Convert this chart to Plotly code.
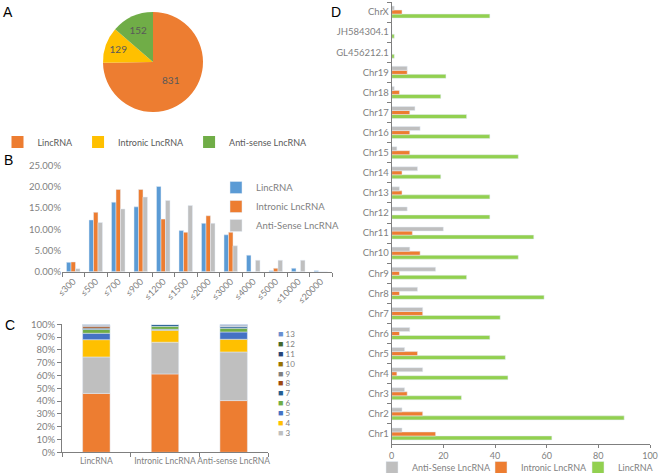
import plotly.graph_objects as go

W, H = 659, 473
def px(x): return x / W
def py(y): return 1 - y / H

FONT = "Lato"
TXT = "#7F7F7F"

# ---------- Panel A data ----------
pie_labels = ["LincRNA", "Intronic LncRNA", "Anti-sense LncRNA"]
pie_values = [831, 129, 152]
pie_colors = ["#ED7D31", "#FFC000", "#70AD47"]

# ---------- Panel B data ----------
len_bins = ["≤300", "≤500", "≤700", "≤900", "≤1200", "≤1500", "≤2000",
            "≤3000", "≤4000", "≤5000", "≤10000", "≤20000"]
b_linc = [0.022, 0.122, 0.164, 0.153, 0.201, 0.097, 0.114, 0.087, 0.039, 0.002, 0.008, 0.002]
b_intronic = [0.023, 0.140, 0.194, 0.194, 0.124, 0.093, 0.132, 0.093, 0.0, 0.008, 0.0, 0.0]
b_anti = [0.007, 0.116, 0.148, 0.176, 0.168, 0.156, 0.114, 0.061, 0.027, 0.027, 0.027, 0.0]

# ---------- Panel C data ----------
c_cats = ["LincRNA", "Intronic LncRNA", "Anti-sense LncRNA"]
c_series = ["2", "3", "4", "5", "6", "7", "8", "9", "10", "11", "12", "13"]
c_values = {
    "2":  [0.460, 0.612, 0.404],
    "3":  [0.285, 0.248, 0.380],
    "4":  [0.135, 0.093, 0.099],
    "5":  [0.050, 0.008, 0.057],
    "6":  [0.030, 0.023, 0.029],
    "7":  [0.010, 0.016, 0.013],
    "8":  [0.012, 0.0, 0.0],
    "9":  [0.008, 0.0, 0.007],
    "10": [0.003, 0.0, 0.0],
    "11": [0.004, 0.0, 0.007],
    "12": [0.002, 0.0, 0.0],
    "13": [0.001, 0.0, 0.004],
}
c_colors = {"2": "#ED7D31", "3": "#BFBFBF", "4": "#FFC000", "5": "#4472C4",
            "6": "#70AD47", "7": "#255E91", "8": "#9E480E", "9": "#7F7F7F",
            "10": "#997300", "11": "#264478", "12": "#43682B", "13": "#698ED0"}

# ---------- Panel D data ----------
chroms = ["Chr1", "Chr2", "Chr3", "Chr4", "Chr5", "Chr6", "Chr7", "Chr8", "Chr9",
          "Chr10", "Chr11", "Chr12", "Chr13", "Chr14", "Chr15", "Chr16", "Chr17",
          "Chr18", "Chr19", "GL456212.1", "JH584304.1", "ChrX"]
d_linc = [62, 90, 27, 45, 44, 38, 42, 59, 29, 49, 55, 38, 38, 19, 49, 38, 29, 19, 21, 1, 1, 38]
d_intronic = [17, 12, 6, 2, 10, 3, 12, 3, 3, 11, 8, 0, 4, 4, 7, 7, 7, 3, 6, 0, 0, 4]
d_anti = [4, 4, 5, 12, 5, 7, 12, 10, 17, 7, 20, 6, 3, 10, 2, 11, 9, 1, 6, 0, 0, 1]

fig = go.Figure()

# Panel A pie
fig.add_trace(go.Pie(
    labels=pie_labels, values=pie_values, sort=False, direction="clockwise", rotation=0,
    marker=dict(colors=pie_colors), textinfo="value", textposition="inside",
    insidetextorientation="horizontal",
    textfont=dict(color="#595959", size=10, family=FONT),
    domain=dict(x=[px(57), px(249)], y=[py(112), py(12)]),
    legend="legend", showlegend=True,
))

# Panel B grouped bars
for name, vals, col in [("LincRNA", b_linc, "#5B9BD5"),
                        ("Intronic LncRNA", b_intronic, "#ED7D31"),
                        ("Anti-Sense LncRNA", b_anti, "#BFBFBF")]:
    fig.add_trace(go.Bar(x=len_bins, y=vals, name=name, marker_color=col,
                         xaxis="x", yaxis="y", legend="legend2"))

# Panel C stacked bars (stack via base)
cum = [0.0, 0.0, 0.0]
for s in c_series:
    vals = c_values[s]
    fig.add_trace(go.Bar(x=c_cats, y=vals, base=list(cum), name=s,
                         marker_color=c_colors[s], offsetgroup="c", width=0.4,
                         xaxis="x2", yaxis="y2", showlegend=False))
    cum = [a + b for a, b in zip(cum, vals)]

# Panel D horizontal grouped bars
for name, vals, col, lw in [("LincRNA", d_linc, "#92D050", 36),
                            ("Intronic LncRNA", d_intronic, "#ED7D31", 52),
                            ("Anti-Sense LncRNA", d_anti, "#BFBFBF", 64)]:
    fig.add_trace(go.Bar(y=chroms, x=vals, name=name, orientation="h",
                         marker_color=col, xaxis="x3", yaxis="y3", legend="legend3",
                         legendwidth=lw))

def ax(size=10, **kw):
    d = dict(showgrid=False, zeroline=False, linecolor="#7F7F7F", automargin=False,
             tickcolor="#7F7F7F", tickfont=dict(size=size, color=TXT, family=FONT))
    d.update(kw)
    return d

fig.update_layout(
    width=W, height=H, margin=dict(l=0, r=0, t=0, b=0, autoexpand=False),
    paper_bgcolor="white", plot_bgcolor="white",
    font=dict(family=FONT, color=TXT, size=10),
    barmode="group", bargap=0.4, bargroupgap=0,
    xaxis=ax(9, domain=[px(62), px(332)], anchor="y", type="category",
             showline=True, ticks="outside", ticklen=4, tickson="boundaries",
             tickangle=-45),
    yaxis=ax(9.5, domain=[py(271.7), py(165.7)], anchor="x", range=[0, 0.25], dtick=0.05,
             tickformat=".2%", showline=False, ticks=""),
    xaxis2=ax(8.5, domain=[px(62), px(268)], anchor="y2", type="category",
              showline=True, ticks="outside", ticklen=4, tickson="boundaries",
              tickangle=0),
    yaxis2=ax(9.5, domain=[py(452.3), py(324.3)], anchor="x2", range=[0, 1], dtick=0.1,
              tickformat=".0%", showline=True, ticks="outside", ticklen=4),
    xaxis3=ax(9, domain=[px(391.7), px(650)], anchor="y3", range=[0, 100], dtick=20,
              showline=True, ticks="outside", ticklen=3),
    yaxis3=ax(9.5, domain=[py(444), py(2)], anchor="x3", type="category",
              categoryorder="array", categoryarray=chroms,
              showline=True, ticks="outside", ticklen=4, tickson="boundaries"),
    legend=dict(orientation="h", x=px(155), xanchor="center", y=py(142), yanchor="middle",
                font=dict(size=9, color="#595959", family=FONT), bgcolor="rgba(0,0,0,0)"),
    legend2=dict(orientation="v", x=px(216), xanchor="left", y=py(173), yanchor="top",
                 font=dict(size=9.5, color=TXT, family=FONT), bgcolor="rgba(0,0,0,0)"),
    legend3=dict(orientation="h", x=px(372), xanchor="left", y=py(453), yanchor="top",
                 traceorder="reversed",
                 font=dict(size=9, color=TXT, family=FONT), bgcolor="rgba(0,0,0,0)"),
)

annotations = []
for lab, x, y in [("A", 8, 12), ("B", 8, 160), ("C", 10, 325), ("D", 336, 12)]:
    annotations.append(dict(text=lab, x=px(x), y=py(y), xref="paper", yref="paper",
                            showarrow=False, xanchor="center", yanchor="middle",
                            font=dict(size=14, color="black", family="Liberation Sans")))
# Panel C legend (13 at top down to 3), one text block with tight line spacing
legend_items = [s for s in reversed(c_series) if s != "2"]
lines = [f"<span style='color:{c_colors[s]};font-size:9px'>■</span>"
         f"<span style='font-size:8px'> {s}</span>" for s in legend_items]
annotations.append(dict(
    text="<br>".join(lines), align="left",
    x=px(276), y=py(326), xref="paper", yref="paper",
    showarrow=False, xanchor="left", yanchor="top",
    font=dict(size=7.6, color=TXT, family=FONT)))
fig.update_layout(annotations=annotations)

fig.write_html("out.html", post_script="document.body.style.margin='0';",
               config={"displayModeBar": False})
